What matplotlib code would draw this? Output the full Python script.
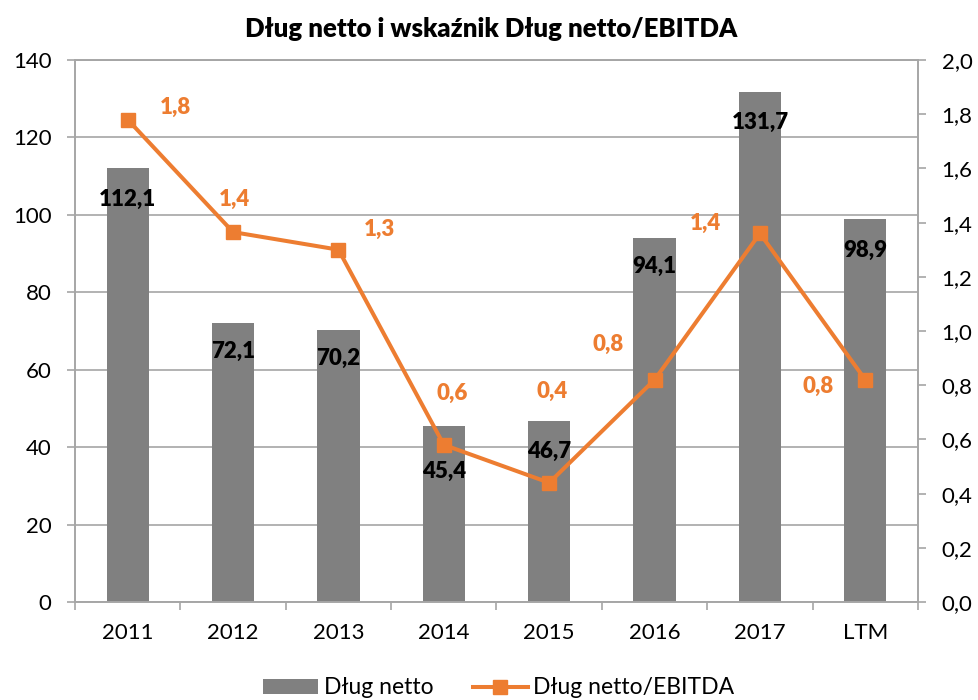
import matplotlib
matplotlib.use("Agg")
import matplotlib.pyplot as plt
import numpy as np
from matplotlib.lines import Line2D
from matplotlib.patches import Patch

plt.rcParams['font.family'] = ['Lato', 'DejaVu Sans']

categories = ["2011", "2012", "2013", "2014", "2015", "2016", "2017", "LTM"]
dlug_netto = [112.1, 72.1, 70.2, 45.4, 46.7, 94.1, 131.7, 98.9]
dlug_ebitda = [1.78, 1.365, 1.30, 0.58, 0.44, 0.82, 1.36, 0.82]
left_ticks = [0, 20, 40, 60, 80, 100, 120, 140]
right_ticks = [0.0, 0.2, 0.4, 0.6, 0.8, 1.0, 1.2, 1.4, 1.6, 1.8, 2.0]

# label placement (pixels) - layout only
bar_label_dy = [-31, -29, -28, -45, -30, -29, -30, -31]
line_label_off = [(48, 12), (1, 33), (41, 20), (8, 51), (3, 91), (-46, 35), (-54, 10), (-47, -7)]

GRAY = "#808080"
ORANGE = "#ED7D31"
GRID = "#A6A6A6"
LABEL_WEIGHT = 'heavy'

fig = plt.figure(figsize=(9.79, 7.0), dpi=100)
ax = fig.add_axes([75/979, 1-602/700, (918-75)/979, (602-60)/700])
ax2 = ax.twinx()

x = np.arange(len(categories))
ax.bar(x, dlug_netto, width=0.4, color=GRAY, zorder=2)
ax.set_ylim(0, 140)
ax.set_xlim(-0.5, len(categories) - 0.5)
ax.set_yticks(left_ticks)
ax.set_yticklabels([str(t) for t in left_ticks])
ax.yaxis.grid(True, color=GRID, linewidth=1.2, zorder=0)
ax.set_axisbelow(True)

ax.set_xticks(x)
ax.set_xticklabels(categories)
ax.set_xticks(np.arange(-0.5, len(categories), 1), minor=True)
ax.tick_params(axis='x', which='major', length=0, pad=15, labelsize=16)
ax.tick_params(axis='x', which='minor', length=6, width=1.2, color=GRID, direction='out')
ax.tick_params(axis='y', length=6, width=1.2, color=GRID, direction='out', pad=11, labelsize=16)

for s in ['left', 'bottom', 'top', 'right']:
    ax.spines[s].set_color(GRID)
    ax.spines[s].set_linewidth(1.2)
    ax2.spines[s].set_color(GRID)
    ax2.spines[s].set_linewidth(1.2)

ax2.plot(x, dlug_ebitda, color=ORANGE, linewidth=2.9, marker='s', markersize=10, zorder=3)
ax2.set_ylim(0, 2.0)
ax2.set_yticks(right_ticks)
ax2.set_yticklabels([f"{t:.1f}".replace('.', ',') for t in right_ticks])
ax2.tick_params(axis='y', length=6, width=1.2, color=GRID, direction='out', pad=11, labelsize=16)

for i, v in enumerate(dlug_netto):
    ax2.annotate(f"{v:.1f}".replace('.', ','), xy=(x[i], v), xycoords=ax.transData,
                 xytext=(0, bar_label_dy[i]), textcoords='offset pixels',
                 ha='center', va='center', fontsize=16, fontweight=LABEL_WEIGHT,
                 color='black', zorder=5)

for i, v in enumerate(dlug_ebitda):
    dx, dy = line_label_off[i]
    ax2.annotate(f"{v:.1f}".replace('.', ','), xy=(x[i], v),
                 xytext=(dx, dy), textcoords='offset pixels',
                 ha='center', va='center', fontsize=16, fontweight=LABEL_WEIGHT,
                 color=ORANGE, zorder=5)

fig.text(491/979, 1-29/700, "Dług netto i wskaźnik Dług netto/EBITDA",
         ha='center', va='center', fontsize=18.5, fontweight=LABEL_WEIGHT)

handles = [Patch(facecolor=GRAY, edgecolor='none'),
           Line2D([0], [0], color=ORANGE, linewidth=2.9, marker='s', markersize=10)]
fig.legend(handles, ["Dług netto", "Dług netto/EBITDA"], loc='center',
           bbox_to_anchor=(499/979, 1-688/700), ncol=2, frameon=False, fontsize=16.5,
           handlelength=2.4, handleheight=0.6, handletextpad=0.25, columnspacing=1.7)

fig.savefig("out.png", dpi=100)
